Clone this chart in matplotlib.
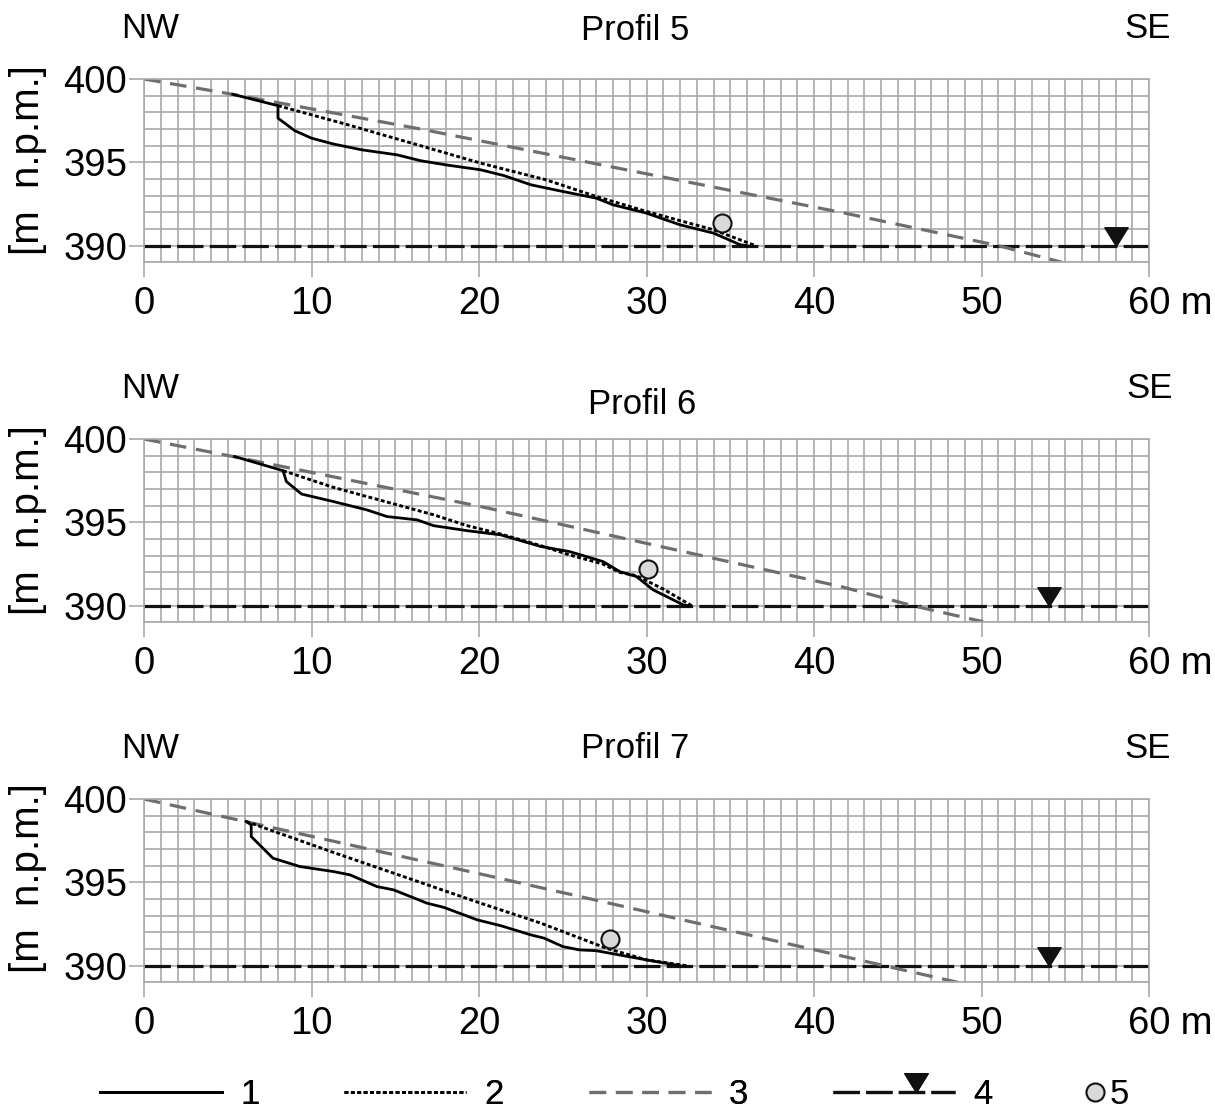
import numpy as np
import matplotlib
matplotlib.use("Agg")
import matplotlib.pyplot as plt
from matplotlib.lines import Line2D
from matplotlib.legend_handler import HandlerBase

plt.rcParams['font.family'] = ['Liberation Sans', 'DejaVu Sans']
plt.rcParams['lines.scale_dashes'] = False

# ---------------- data ----------------
profile_names = ["Profil 5", "Profil 6", "Profil 7"]

p5_solid_x = [5.3, 8.0, 8.0, 9.0, 10.0, 11.3, 13.0, 15.1, 16.5, 18.0, 20.1, 21.5, 23.1, 25.0, 27.0, 28.0, 30.0, 32.0, 34.0, 35.6, 36.0]
p5_solid_y = [399.08, 398.4, 397.65, 396.9, 396.45, 396.1, 395.75, 395.45, 395.1, 394.85, 394.55, 394.2, 393.65, 393.25, 392.85, 392.45, 391.95, 391.25, 390.75, 390.05, 390.0]
p5_dot_x = [8.0, 12.0, 16.5, 20.1, 24.0, 27.0, 30.0, 34.0, 36.5]
p5_dot_y = [398.4, 397.3, 396.0, 394.95, 393.95, 392.95, 392.05, 390.95, 390.0]
p5_gray_x = [0.0, 5.3, 16.5, 41.6, 51.0, 54.8]
p5_gray_y = [400.0, 399.08, 397.0, 392.0, 390.0, 389.0]
p5_point = (34.5, 391.38)
p5_water_x = 58.0

p6_solid_x = [5.4, 8.3, 8.5, 9.4, 11.3, 13.3, 14.5, 16.3, 17.3, 19.3, 21.3, 23.7, 25.4, 27.4, 28.4, 29.4, 30.4, 32.2, 32.5]
p6_solid_y = [398.95, 398.1, 397.45, 396.7, 396.25, 395.75, 395.35, 395.15, 394.8, 394.5, 394.25, 393.55, 393.25, 392.65, 392.05, 391.75, 390.95, 390.05, 390.0]
p6_dot_x = [8.3, 11.3, 15.3, 17.3, 19.3, 21.3, 23.7, 25.4, 27.4, 28.4, 29.4, 31.0, 32.7]
p6_dot_y = [398.1, 397.1, 396.0, 395.45, 394.8, 394.3, 393.6, 393.05, 392.5, 392.0, 391.8, 391.0, 390.0]
p6_gray_x = [0.0, 5.3, 20.1, 41.6, 45.9, 50.1]
p6_gray_y = [400.0, 398.95, 395.95, 391.15, 390.0, 389.04]
p6_point = (30.08, 392.2)
p6_water_x = 54.0

p7_solid_x = [6.1, 6.4, 6.4, 7.7, 9.3, 11.3, 12.3, 13.9, 14.9, 16.9, 17.9, 19.9, 21.3, 23.1, 23.9, 25.0, 26.0, 27.0, 30.0, 32.0]
p7_solid_y = [398.65, 398.45, 397.75, 396.45, 395.95, 395.65, 395.45, 394.75, 394.55, 393.75, 393.5, 392.75, 392.4, 391.85, 391.65, 391.15, 390.95, 390.9, 390.35, 390.0]
p7_dot_x = [6.1, 11.3, 20.1, 23.7, 27.6, 30.0, 32.4]
p7_dot_y = [398.65, 396.8, 393.75, 392.55, 391.05, 390.35, 390.0]
p7_gray_x = [0.0, 20.1, 41.6, 44.2, 48.6]
p7_gray_y = [400.0, 395.5, 390.6, 390.0, 389.0]
p7_point = (27.84, 391.6)
p7_water_x = 54.0

water_level = 390.0
x_ticks = [0, 10, 20, 30, 40, 50, 60]
x_tick_labels = ["0", "10", "20", "30", "40", "50", "60"]
y_ticks = [390, 395, 400]
y_tick_labels = ["390", "395", "400"]
legend_labels = ["1", "2", "3", "4", "5"]

profiles = [
    (p5_solid_x, p5_solid_y, p5_dot_x, p5_dot_y, p5_gray_x, p5_gray_y, p5_point, p5_water_x),
    (p6_solid_x, p6_solid_y, p6_dot_x, p6_dot_y, p6_gray_x, p6_gray_y, p6_point, p6_water_x),
    (p7_solid_x, p7_solid_y, p7_dot_x, p7_dot_y, p7_gray_x, p7_gray_y, p7_point, p7_water_x),
]

# ---------------- styles ----------------
W, H = 1215, 1111
FS = 25        # titles / legend
FS_TICK = 27.5
FS_YLAB = 29
TICK_LEN = 11
X_PAD = 6
GRID_C = '#a9a9a9'
GRAY_C = '#6e6e6e'
solid_kw = dict(color='black', lw=2.0, solid_joinstyle='round')
dot_kw = dict(color='black', lw=2.1, dashes=(2.8, 1.8))
gray_kw = dict(color=GRAY_C, lw=2.3, dashes=(12, 7))
water_kw = dict(color='#111111', lw=2.3, dashes=(19, 4.5))
tri_marker = [(0, 0), (-0.62, 1.0), (0.62, 1.0), (0, 0)]
tri_kw = dict(marker=tri_marker, ms=27, color='#111111', ls='none')
pt_kw = dict(marker='o', ms=13, mfc='#d9d9d9', mec='#111111', mew=1.5, ls='none')

fig = plt.figure(figsize=(W / 100, H / 100), dpi=100)

panel_tops = [79, 439, 799]
panel_bots = [262.3, 622.4, 982.4]
left_px, right_px = 144, 1149

title_pos = [((150, 29), (635, 30), (1148, 29)),
             ((150, 389), (642, 404), (1150, 388)),
             ((150, 749), (635, 749), (1148, 748))]
ylabel_y = [160, 520, 878]

for i, (sx, sy, dx, dy, gx, gy, pt, wx) in enumerate(profiles):
    t, b = panel_tops[i], panel_bots[i]
    ax = fig.add_axes([left_px / W, 1 - b / H, (right_px - left_px) / W, (b - t) / H])
    ax.set_xlim(0, 60)
    ax.set_ylim(389, 400)
    ax.set_xticks(x_ticks)
    ax.set_xticklabels(x_tick_labels)
    ax.set_yticks(y_ticks)
    ax.set_yticklabels(y_tick_labels)
    ax.set_xticks(np.arange(0, 61, 1), minor=True)
    ax.set_yticks(np.arange(389, 401, 1), minor=True)
    ax.grid(which='both', color=GRID_C, lw=1.2)
    ax.set_axisbelow(True)
    for sp in ax.spines.values():
        sp.set_color(GRID_C)
        sp.set_linewidth(1.2)
    ax.tick_params(which='minor', length=0)
    ax.tick_params(which='major', length=TICK_LEN, width=1.2, color=GRID_C, labelsize=FS_TICK)
    ax.tick_params(axis='x', pad=X_PAD)
    ax.tick_params(axis='y', pad=1)

    ax.plot([0, 60], [water_level, water_level], **water_kw)
    ax.plot(gx, gy, **gray_kw)
    ax.plot(dx, dy, **dot_kw)
    ax.plot(sx, sy, **solid_kw)
    ax.plot([pt[0]], [pt[1]], zorder=5, **pt_kw)
    ax.plot([wx], [water_level], zorder=5, **tri_kw)

    ax.annotate(" m", xy=(60, 389), xycoords='data', xytext=(15, -(TICK_LEN + X_PAD)),
                textcoords='offset points', ha='left', va='top', fontsize=FS_TICK)

    (nwx, nwy), (tx, ty), (sex, sey) = title_pos[i]
    fig.text(nwx / W, 1 - nwy / H, "NW", ha='center', va='center', fontsize=FS)
    fig.text(tx / W, 1 - ty / H, profile_names[i], ha='center', va='center', fontsize=FS)
    fig.text(sex / W, 1 - sey / H, "SE", ha='center', va='center', fontsize=FS)
    fig.text(28 / W, 1 - ylabel_y[i] / H, "[m  n.p.m.]", rotation=90,
             ha='center', va='center', fontsize=FS_YLAB)

# ---------------- legend ----------------
class HandlerWaterLevel(HandlerBase):
    def create_artists(self, legend, orig_handle, xdescent, ydescent, width, height, fontsize, trans):
        y = height / 2 - ydescent
        line = Line2D([-xdescent, width - xdescent], [y, y], **water_kw)
        tri = Line2D([-xdescent + 0.68 * width], [y], **tri_kw)
        line.set_transform(trans)
        tri.set_transform(trans)
        return [line, tri]


class HandlerPoint(HandlerBase):
    def create_artists(self, legend, orig_handle, xdescent, ydescent, width, height, fontsize, trans):
        y = height / 2 - ydescent
        p = Line2D([-xdescent + width / 2], [y], **pt_kw)
        p.set_transform(trans)
        return [p]


h1 = Line2D([], [], **solid_kw)
h2 = Line2D([], [], **dot_kw)
h3 = Line2D([], [], **gray_kw)
h4 = Line2D([], [])
h5 = Line2D([], [])

leg_y = 1 - 1095 / H
fs_px = FS * 100 / 72
legA = fig.legend([h1, h2, h3, h4], legend_labels[:4], loc='center left',
                  bbox_to_anchor=(100 / W, leg_y), ncol=4, frameon=False,
                  borderpad=0, borderaxespad=0, handlelength=122 / fs_px,
                  handletextpad=18 / fs_px, columnspacing=85 / fs_px,
                  fontsize=FS, handler_map={h4: HandlerWaterLevel()})
legB = fig.legend([h5], legend_labels[4:], loc='center left',
                  bbox_to_anchor=(1084 / W, leg_y), frameon=False,
                  borderpad=0, borderaxespad=0, handlelength=22 / fs_px,
                  handletextpad=4 / fs_px, fontsize=FS,
                  handler_map={h5: HandlerPoint()})
fig.add_artist(legA)

fig.savefig("out.png", dpi=100)
